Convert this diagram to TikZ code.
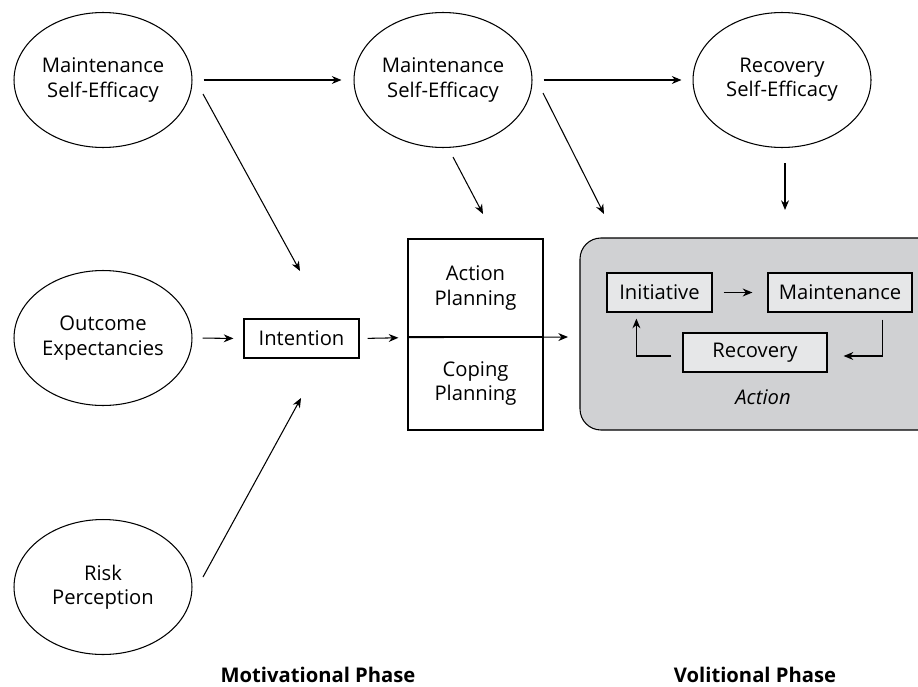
\documentclass[tikz,border=0pt]{standalone}
\usepackage{fontspec}
\setmainfont{Open Sans}
\usetikzlibrary{arrows.meta,shapes.geometric,calc}
\definecolor{actgray}{RGB}{208,209,211}
\definecolor{boxgray}{RGB}{230,231,232}
\tikzset{
	belief/.style={draw, ellipse, line width=0.6pt, minimum width=3.56cm, minimum height=2.7cm, align=center, inner sep=0pt},
	stagebox/.style={draw, rectangle, line width=0.7pt, minimum height=0.78cm, inner sep=0pt},
	arr/.style={-{Stealth[length=5.5pt,width=4.5pt]}, line width=0.6pt}
}

\begin{document}
\begin{tikzpicture}[x=0.02cm, y=-0.02cm, font=\fontsize{11.5}{13.8}\selectfont]
				\useasboundingbox (0, 0) rectangle (918, 686);
				
				% action phase background
				\draw[fill=actgray, line width=0.6pt, rounded corners=0.42cm] (580, 238) rectangle (940, 430);
				
				\node[belief] (mse1) at (103, 80) {Maintenance\\Self-Efficacy};
				\node[belief] (mse2) at (443, 80) {Maintenance\\Self-Efficacy};
				\node[belief] (rse) at (782, 80) {Recovery\\Self-Efficacy};
				\node[belief] (outexp) at (103, 338) {Outcome\\Expectancies};
				\node[belief] (risk) at (103, 587) {Risk\\Perception};
				
				\node[stagebox, minimum width=2.3cm] (intent) at (301.5, 338.5) {Intention};
				
				\node[draw, line width=0.7pt, minimum width=2.7cm, minimum height=1.96cm, align=center, inner sep=0pt] (actplan) at (475.5, 288) {Action\\Planning};
				\node[draw, line width=0.7pt, minimum width=2.7cm, minimum height=1.86cm, align=center, inner sep=0pt] (copeplan) at (475.5, 383.5) {Coping\\Planning};
				
				\node[stagebox, fill=boxgray, minimum width=2.1cm] (init) at (659.5, 292.5) {Initiative};
				\node[stagebox, fill=boxgray, minimum width=2.88cm] (maint) at (840, 292.5) {Maintenance};
				\node[stagebox, fill=boxgray, minimum width=2.88cm] (recov) at (755, 352.5) {Recovery};
				\node (action) at (763, 397) {\itshape Action};
				
				\node (motiv) at (318, 675) {\bfseries Motivational Phase};
				\node (volit) at (755, 675) {\bfseries Volitional Phase};
				
				% free ends
				\coordinate (a1) at (203, 94);
				\coordinate (a2) at (300, 271);
				\coordinate (b1) at (453, 157);
				\coordinate (b2) at (483, 214);
				\coordinate (c1) at (543, 93);
				\coordinate (c2) at (604, 214);
				\coordinate (d1) at (785, 163);
				\coordinate (d2) at (785, 210);
				\coordinate (e1) at (203, 577);
				\coordinate (e2) at (301, 398);
				\coordinate (planout) at (568, 337);
				
				\draw[arr, shorten <=0.22cm, shorten >=0.24cm] (mse1.east) -- (mse2.west);
				\draw[arr, shorten <=0.22cm, shorten >=0.22cm] (mse2.east) -- (rse.west);
				\draw[arr] (a1) -- (a2);
				\draw[arr] (b1) -- (b2);
				\draw[arr] (c1) -- (c2);
				\draw[arr] (d1) -- (d2);
				\draw[arr] (e1) -- (e2);
				\draw[arr, shorten <=0.2cm, shorten >=0.2cm] (outexp.east) -- (intent.west);
				\draw[arr, shorten <=0.16cm, shorten >=0.18cm] (intent.east) -- (actplan.south west);
				\draw[arr] (actplan.south west) -- (planout);
				
				\draw[arr, shorten <=0.22cm, shorten >=0.3cm] (init.east) -- (maint.west);
				\draw[arr] ($(maint.south east)+(-30, 7)$) |- ($(recov.east)+(16, 3.5)$);
				\draw[arr] ($(recov.west)+(-11, 3.5)$) -| ($(init.south west)+(30, 6)$);
\end{tikzpicture}
\end{document}
